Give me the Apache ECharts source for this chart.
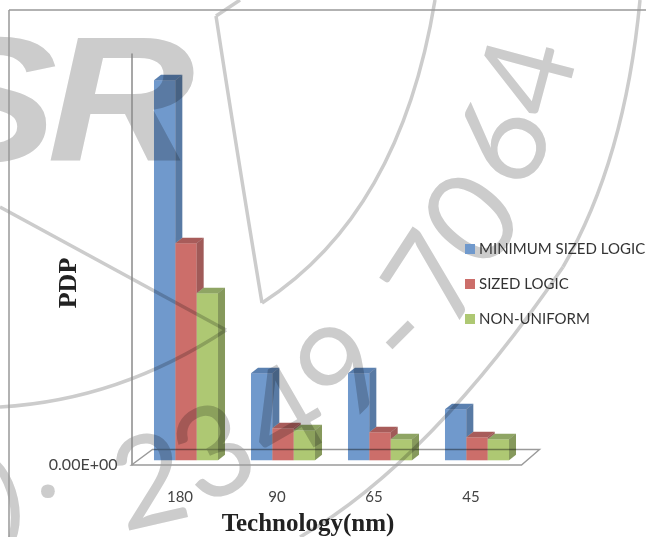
<!DOCTYPE html>
<html>
<head>
<meta charset="utf-8">
<style>html,body{margin:0;padding:0;background:#fff}#chart{width:646px;height:537px}</style>
<script src="https://cdn.jsdelivr.net/npm/echarts@6/dist/echarts.min.js"></script>
</head>
<body>
<div id="chart"></div>
<script>
const categories = ['180', '90', '65', '45'];
const minimumSizedLogic = [3.80, 0.87, 0.87, 0.51];
const sizedLogic = [2.17, 0.32, 0.28, 0.23];
const nonUniform = [1.67, 0.30, 0.21, 0.21];

const seriesNames = ['MINIMUM SIZED LOGIC', 'SIZED LOGIC', 'NON-UNIFORM'];
const seriesValues = [minimumSizedLogic, sizedLogic, nonUniform];
const palette = [
  { front: '#7099CC', side: '#587AA4', top: '#5A80B0' },
  { front: '#CC6E6A', side: '#A05A58', top: '#A85C5A' },
  { front: '#AEC873', side: '#86995C', top: '#8FA564' }
];
const DEPTH_X = 7, DEPTH_Y = 5.5, LIFT = 4.7, SHIFT = 6, BAR_SHARE = 0.22;

// Extruded bar: front face, right side and top, placed by the chart's own scales.
// Faces multiply onto the stamp behind them, so each side stops where the next bar begins.
function barRenderer(slot, colors) {
  const next = seriesValues[slot + 1];
  return function (params, api) {
    const cat = api.value(0);
    const base = api.coord([cat, 0]);
    const tip = api.coord([cat, api.value(1)]);
    const w = api.size([1, 0])[0] * BAR_SHARE;
    const x0 = base[0] + SHIFT + (slot - 1.5) * w, x1 = x0 + w;
    const y0 = base[1] - LIFT, y1 = tip[1] - LIFT;
    const sideFoot = next ? api.coord([cat, next[cat]])[1] - LIFT : y0;
    const poly = (points, fill) => ({ type: 'polygon', shape: { points }, style: { fill } });
    return {
      type: 'group',
      children: [
        poly([[x1, sideFoot], [x1 + DEPTH_X, sideFoot - DEPTH_Y], [x1 + DEPTH_X, y1 - DEPTH_Y], [x1, y1]], colors.side),
        poly([[x0, y1], [x1, y1], [x1 + DEPTH_X, y1 - DEPTH_Y], [x0 + DEPTH_X, y1 - DEPTH_Y]], colors.top),
        poly([[x0, y0], [x1, y0], [x1, y1], [x0, y1]], colors.front)
      ]
    };
  };
}

// Floor of the 3D plot, anchored to the grid's lower edge.
function floorRenderer(params, api) {
  const cs = params.coordSys;
  const b = cs.y + cs.height;
  return {
    type: 'polygon',
    shape: { points: [[cs.x, b], [cs.x + cs.width + 2, b], [cs.x + cs.width + 20, b - 15.5], [cs.x + 21, b - 15.5]] },
    style: { fill: null, stroke: '#9a9a9a', lineWidth: 1.4 }
  };
}

// Journal stamp that runs across the page, behind the plot.
function stampLayer(fill, z) {
  const stroke = { stroke: fill, lineWidth: 3.5, fill: null };
  const line = (x1, y1, x2, y2) => ({ type: 'line', z, shape: { x1, y1, x2, y2 }, style: stroke });
  const curve = (x1, y1, cpx1, cpy1, x2, y2) => ({ type: 'bezierCurve', z, shape: { x1, y1, cpx1, cpy1, x2, y2 }, style: stroke });
  const glyph = (text, x, y, deg, font, scaleX) => ({
    type: 'text', z, x, y, rotation: deg * Math.PI / 180, scaleX: scaleX || 1,
    style: { text, fill, font, align: 'center', verticalAlign: 'middle' }
  });
  const digitFont = '126px Lato';
  const logoFont = 'italic bold 178px "Liberation Sans"';
  return [
    line(216, 16, 240, 0),
    curve(216, 16, 235, 140, 262, 303),
    curve(262, 303, 400, 214, 435, 0),
    curve(640, 0, 625, 160, 563, 267),
    curve(563, 267, 430, 462, 300, 537),
    line(0, 207, 226, 330),
    curve(226, 330, 120, 400, 0, 407),
    glyph('S', -11, 112, 0, logoFont, 1.15),
    glyph('R', 121, 112, 0, logoFont, 1.15),
    glyph(')', 6, 500, 12, '110px "Open Sans"'),
    glyph('.', 48, 474, 0, 'bold 80px "Open Sans"'),
    glyph('2', 150, 484, 13, digitFont),
    glyph('3', 215, 455, 26, digitFont),
    glyph('4', 285, 417, 30, digitFont),
    glyph('9', 345, 372, 45, digitFont),
    glyph('-', 398, 333, 45, digitFont),
    glyph('7', 437, 280, 57, digitFont),
    glyph('0', 474, 221, 50, digitFont),
    glyph('6', 505, 143, 62, digitFont),
    glyph('4', 530, 77, 75, digitFont)
  ];
}

const frameStyle = { stroke: '#999', lineWidth: 1.5 };

const chart = echarts.init(document.getElementById('chart'));
chart.setOption({
  animation: false,
  backgroundColor: '#fff',
  grid: { left: 131.5, right: 126.5, top: 54, bottom: 72, containLabel: false, outerBoundsMode: 'none' },
  xAxis: {
    type: 'category',
    data: categories,
    axisLine: { show: false },
    axisTick: { show: false },
    axisLabel: { margin: 25, color: '#444', fontFamily: 'Lato', fontSize: 15 },
    name: 'Technology(nm)',
    nameLocation: 'middle',
    nameGap: 47,
    nameMoveOverlap: false,
    nameTextStyle: { fontFamily: 'Liberation Serif', fontWeight: 'bold', fontSize: 25, color: '#222', padding: [0, 35, 0, 0] }
  },
  yAxis: {
    type: 'value',
    min: 0,
    max: 4.11,
    interval: 5,
    splitLine: { show: false },
    axisTick: { show: false },
    axisLine: { show: true, lineStyle: { color: '#8a8a8a', width: 1.5 } },
    axisLabel: {
      margin: 14, color: '#444', fontFamily: 'Lato', fontSize: 16,
      formatter: v => (v === 0 ? '0.00E+00' : '')
    },
    name: 'PDP',
    nameLocation: 'middle',
    nameGap: 49,
    nameMoveOverlap: false,
    nameTextStyle: { fontFamily: 'Liberation Serif', fontWeight: 'bold', fontSize: 26, color: '#222', padding: [0, 47, 0, 0] }
  },
  legend: {
    orient: 'vertical',
    left: 465,
    top: 240,
    itemWidth: 10,
    itemHeight: 10,
    itemGap: 17,
    padding: 0,
    icon: 'rect',
    data: seriesNames,
    textStyle: { fontFamily: 'Lato', fontSize: 15, color: '#333', padding: [0, 0, 0, -1], lineHeight: 18 }
  },
  series: [
    { type: 'custom', name: 'floor', silent: true, z: 1, renderItem: floorRenderer, data: [[0, 0]] },
    ...seriesValues.map((values, slot) => ({
      type: 'custom',
      name: seriesNames[slot],
      z: 2 + slot,
      blendMode: 'multiply',
      itemStyle: { color: palette[slot].front },
      renderItem: barRenderer(slot, palette[slot]),
      encode: { x: 0, y: 1 },
      data: values.map((v, i) => [i, v])
    }))
  ],
  graphic: {
    z: 0,
    elements: [
      ...stampLayer('#cccccc', 0),
      { type: 'line', z: 1, shape: { x1: 9, y1: 10, x2: 9, y2: 537 }, style: frameStyle },
      { type: 'line', z: 1, shape: { x1: 9, y1: 10, x2: 646, y2: 10 }, style: frameStyle }
    ]
  }
});
</script>
</body>
</html>
